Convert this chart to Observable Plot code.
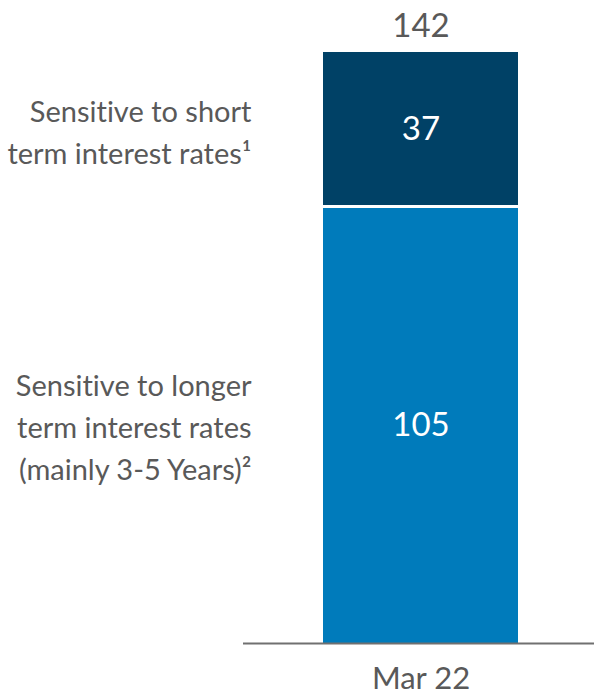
<!DOCTYPE html>
<html>
<head>
<meta charset="utf-8">
<script src="https://cdn.jsdelivr.net/npm/d3@7"></script>
<script src="https://cdn.jsdelivr.net/npm/@observablehq/plot@0.6"></script>
<style>
  html, body { margin: 0; padding: 0; background: #fff; }
  svg text { font-variant-ligatures: none; font-feature-settings: "liga" 0; }
</style>
</head>
<body>
<div id="chart"></div>
<script>
const period = "Mar 22";
const segments = ["Longer term", "Short term"];
const values = [105, 37];
const colors = ["#007bbb", "#004166"];
const segmentLabels = [
  "Sensitive to longer\nterm interest rates\n(mainly 3-5 Years)²",
  "Sensitive to short\nterm interest rates¹"
];

const data = segments.map((s, i) => ({
  period, segment: s, value: values[i], label: segmentLabels[i]
}));
const totals = [{ period, total: d3.sum(values) }];

const textGray = "#595959";
const font = "Lato, 'Open Sans', sans-serif";

const chart = Plot.plot({
  width: 594,
  height: 696,
  marginTop: 52,
  marginBottom: 53,
  marginLeft: 243,
  marginRight: 0,
  style: { fontFamily: font, background: "#fff" },
  x: { domain: [period], range: [323, 518], padding: 0, axis: null },
  y: { domain: [0, d3.sum(values)], axis: null },
  color: { domain: segments, range: colors },
  marks: [
    Plot.barY(data, { x: "period", y: "value", fill: "segment" }),
    Plot.tickY(data.slice(0, 1), { x: "period", y: "value", stroke: "#fff", strokeWidth: 3 }),
    Plot.text(data, Plot.stackY({ x: "period", y: "value", text: d => String(d.value), fill: "#fff", fontSize: 33 })),
    Plot.text(data, Plot.stackY({ y: "value", text: "label", frameAnchor: "left", dx: 8, textAnchor: "end", lineHeight: 1.45, fontSize: 29, fill: textGray })),
    Plot.text(totals, { x: "period", y: "total", text: d => String(d.total), lineAnchor: "bottom", dy: -16, fill: textGray, fontSize: 33 }),
    Plot.ruleY([0], { stroke: "#707070", strokeWidth: 2 }),
    Plot.axisX({ tickSize: 0, tickPadding: 23, fontSize: 31, fill: textGray, label: null })
  ]
});

document.getElementById("chart").appendChild(chart);
</script>
</body>
</html>
